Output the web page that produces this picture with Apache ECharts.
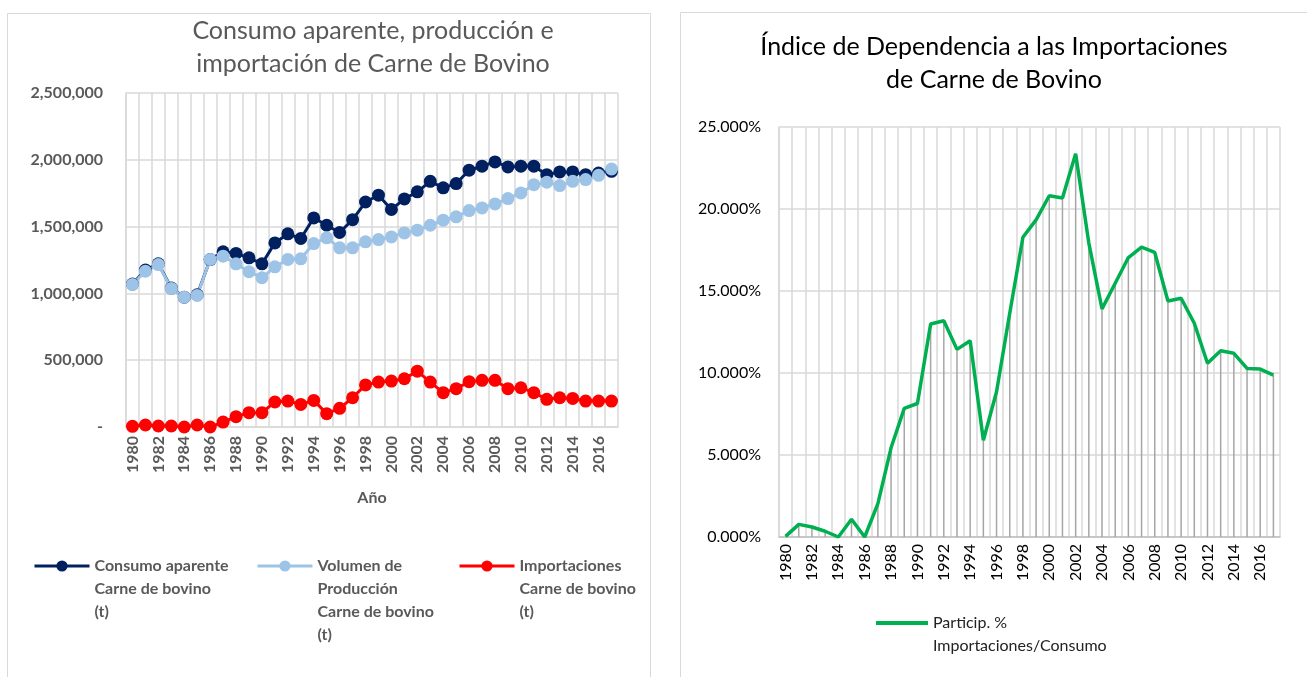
<!DOCTYPE html>
<html>
<head>
<meta charset="utf-8">
<script src="https://cdn.jsdelivr.net/npm/echarts@6/dist/echarts.min.js"></script>
<style>
html, body { margin: 0; padding: 0; background: #fff; }
#main { width: 1307px; height: 677px; }
</style>
</head>
<body>
<div id="main"></div>
<script>
// años 1980-2017
var years = ['1980','1981','1982','1983','1984','1985','1986','1987','1988','1989',
    '1990','1991','1992','1993','1994','1995','1996','1997','1998','1999',
    '2000','2001','2002','2003','2004','2005','2006','2007','2008','2009',
    '2010','2011','2012','2013','2014','2015','2016','2017'];

// Consumo aparente (t)
var consumo = [1070000, 1175000, 1222000, 1040000, 972000, 990000, 1253000, 1311000, 1299000, 1266000,
    1221000, 1378000, 1446000, 1411000, 1565000, 1510000, 1456000, 1552000, 1684000, 1735000,
    1628000, 1707000, 1760000, 1839000, 1790000, 1822000, 1922000, 1952000, 1984000, 1947000,
    1952000, 1952000, 1889000, 1909000, 1909000, 1889000, 1901000, 1914000];

// Volumen de producción (t)
var produccion = [1067000, 1166000, 1216000, 1037000, 972000, 985000, 1254000, 1279000, 1221000, 1162000,
    1117000, 1199000, 1254000, 1259000, 1373000, 1416000, 1341000, 1341000, 1386000, 1403000,
    1423000, 1453000, 1473000, 1510000, 1548000, 1573000, 1620000, 1640000, 1670000, 1710000,
    1752000, 1814000, 1832000, 1807000, 1839000, 1852000, 1884000, 1931000];

// Importaciones (t)
var importaciones = [5000, 15000, 7500, 7500, 0, 15000, 0, 37000, 77000, 107000,
    107000, 187000, 194000, 169000, 199000, 100000, 140000, 219000, 315000, 336000,
    344000, 361000, 418000, 336000, 257000, 287000, 339000, 349000, 349000, 287000,
    294000, 257000, 207000, 219000, 214000, 194000, 194000, 194000];

// Participación % importaciones / consumo
var particip = [0.04, 0.77, 0.61, 0.35, 0.0, 1.08, 0.0, 2.04, 5.44, 7.84,
    8.14, 12.99, 13.19, 11.44, 11.97, 5.90, 8.86, 13.64, 18.28, 19.34,
    20.81, 20.67, 23.37, 17.92, 13.91, 15.47, 17.04, 17.67, 17.35, 14.39,
    14.56, 13.03, 10.59, 11.36, 11.20, 10.28, 10.24, 9.87];

var nombres = ['Consumo aparente\nCarne de bovino\n(t)',
    'Volumen de\nProducción\nCarne de bovino\n(t)',
    'Importaciones\nCarne de bovino\n(t)'];
var nombrePart = 'Particip. %\nImportaciones/Consumo';

var FONT = 'Lato, "Noto Sans", sans-serif';
var GRIS = '#595959';

// antepone lineas vacias para que el icono quede en la primera linea
function Relleno(lines) {
    var s = '';
    for (var i = 1; i < lines; i++) s += '\n';
    return s;
}

// leyenda de la izquierda, una por serie
function LeyendaIzq(name, left, lines) {
    return {
        data: [name],
        left: left,
        top: 566 - (2 * lines - 1) * 23 / 2,
        padding: 0,
        itemWidth: 55,
        itemHeight: 14,
        lineStyle: { width: 3 },
        formatter: function (n) { return Relleno(lines) + n; },
        textStyle: {
            fontFamily: FONT,
            fontSize: 16,
            fontWeight: 'bold',
            color: GRIS,
            lineHeight: 23
        }
    };
}

function SerieLinea(name, data, color) {
    return {
        name: name,
        type: 'line',
        xAxisIndex: 0,
        yAxisIndex: 0,
        data: data,
        symbol: 'circle',
        symbolSize: 13,
        showAllSymbol: true,
        lineStyle: { color: color, width: 3 },
        itemStyle: { color: color },
        emphasis: { disabled: true }
    };
}

var Chart = echarts.init(document.getElementById('main'));
Chart.setOption({
    animation: false,
    textStyle: { fontFamily: FONT },
    graphic: [
        { type: 'rect', shape: { x: 7.5, y: 13.5, width: 643, height: 700 },
          style: { fill: 'none', stroke: '#d9d9d9', lineWidth: 1 }, z: -10 },
        { type: 'rect', shape: { x: 680.5, y: 12.5, width: 660, height: 700 },
          style: { fill: 'none', stroke: '#d9d9d9', lineWidth: 1 }, z: -10 }
    ],
    title: [
        {
            text: 'Consumo aparente, producción e\nimportación de Carne de Bovino',
            left: 373, top: 14, textAlign: 'center', padding: 0,
            textStyle: { fontFamily: FONT, fontSize: 25, fontWeight: 'normal', color: GRIS, lineHeight: 33 }
        },
        {
            text: 'Índice de Dependencia a las Importaciones\nde Carne de Bovino',
            left: 994, top: 30, textAlign: 'center', padding: 0,
            textStyle: { fontFamily: FONT, fontSize: 25, fontWeight: 'normal', color: '#000', lineHeight: 33 }
        }
    ],
    legend: [
        LeyendaIzq(nombres[0], 33, 3),
        LeyendaIzq(nombres[1], 256, 4),
        LeyendaIzq(nombres[2], 458, 3),
        {
            data: [nombrePart],
            left: 876,
            top: 623 - 3 * 23 / 2,
            padding: 0,
            icon: 'rect',
            itemWidth: 52,
            itemHeight: 4,
            formatter: function (n) { return '\n' + n; },
            textStyle: {
                fontFamily: FONT, fontSize: 16, color: '#222', lineHeight: 23
            }
        }
    ],
    grid: [
        { left: 126, top: 93, width: 492, height: 334 },
        { left: 779, top: 127, width: 501, height: 410 }
    ],
    xAxis: [
        {
            type: 'category', gridIndex: 0, data: years, boundaryGap: true,
            name: 'Año', nameLocation: 'middle', nameGap: 63,
            nameTextStyle: { fontFamily: FONT, fontSize: 16, fontWeight: 'bold', color: GRIS },
            axisLine: { lineStyle: { color: '#d9d9d9', width: 1.5 } },
            axisTick: { show: false },
            axisLabel: { interval: 1, rotate: 90, margin: 9, fontFamily: FONT, fontSize: 16, fontWeight: 'bold', color: GRIS },
            splitLine: { show: true, interval: 0, lineStyle: { color: '#d9d9d9', width: 1.5 } }
        },
        {
            type: 'category', gridIndex: 1, data: years, boundaryGap: true,
            axisLine: { lineStyle: { color: '#bfbfbf', width: 1.5 } },
            axisTick: { show: false },
            axisLabel: { interval: 1, rotate: 90, margin: 7, fontFamily: FONT, fontSize: 16, color: '#000' },
            splitLine: { show: true, interval: 0, lineStyle: { color: '#d9d9d9', width: 1.5 } }
        }
    ],
    yAxis: [
        {
            type: 'value', gridIndex: 0, min: 0, max: 2500000, interval: 500000,
            axisLine: { show: true, lineStyle: { color: '#d9d9d9', width: 1.5 } },
            axisTick: { show: false },
            axisLabel: {
                margin: 23, fontFamily: FONT, fontSize: 16, fontWeight: 'bold', color: GRIS,
                formatter: function (v) { return v === 0 ? '-' : v.toLocaleString('en-US'); }
            },
            splitLine: { lineStyle: { color: '#d9d9d9', width: 1.5 } }
        },
        {
            type: 'value', gridIndex: 1, min: 0, max: 25, interval: 5,
            axisLine: { show: true, lineStyle: { color: '#d9d9d9', width: 1.5 } },
            axisTick: { show: false },
            axisLabel: {
                margin: 18, fontFamily: FONT, fontSize: 16, color: '#000',
                formatter: function (v) { return v.toFixed(3) + '%'; }
            },
            splitLine: { lineStyle: { color: '#d9d9d9', width: 1.5 } }
        }
    ],
    series: [
        SerieLinea(nombres[0], consumo, '#002060'),
        SerieLinea(nombres[1], produccion, '#9dc3e6'),
        SerieLinea(nombres[2], importaciones, '#ff0000'),
        // líneas de caída hasta el eje
        {
            name: 'caida',
            type: 'bar',
            xAxisIndex: 1,
            yAxisIndex: 1,
            data: particip,
            barWidth: 1.5,
            itemStyle: { color: '#a6a6a6' },
            emphasis: { disabled: true },
            z: 1
        },
        {
            name: nombrePart,
            type: 'line',
            xAxisIndex: 1,
            yAxisIndex: 1,
            data: particip,
            symbol: 'none',
            lineStyle: { color: '#00b050', width: 3.5 },
            itemStyle: { color: '#00b050' },
            z: 3
        }
    ]
});
</script>
</body>
</html>
